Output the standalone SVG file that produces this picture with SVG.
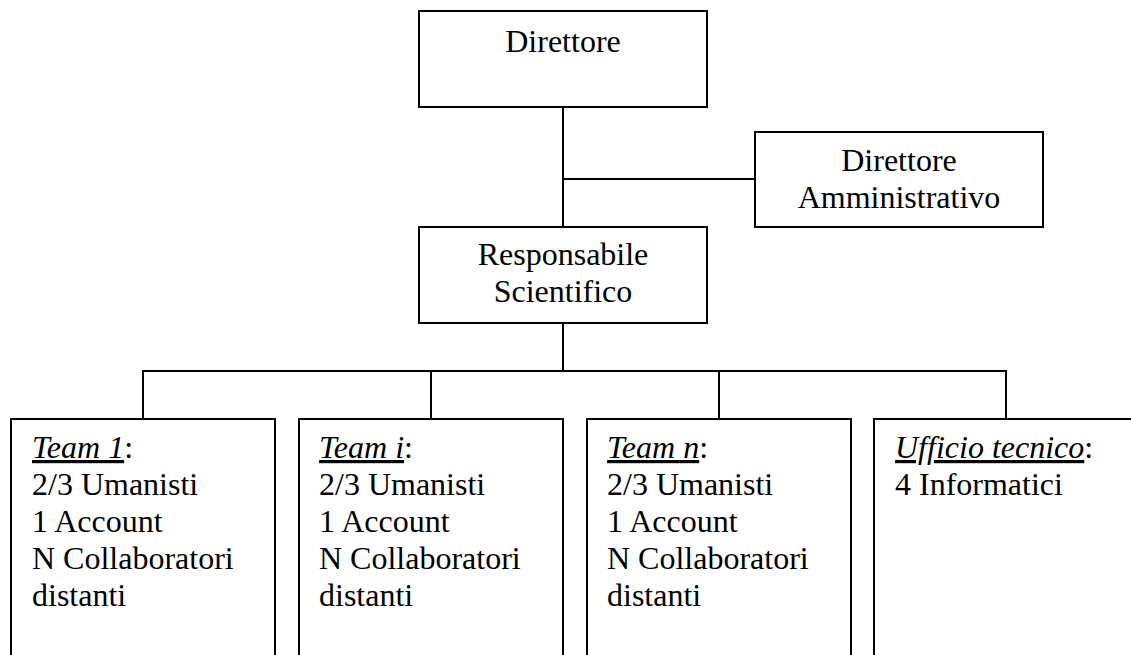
<svg xmlns="http://www.w3.org/2000/svg" width="1131" height="655" viewBox="0 0 1131 655">
  <style>
    .box { fill: #ffffff; stroke: #000000; stroke-width: 2; }
    .wire { fill: none; stroke: #000000; stroke-width: 2; }
    text { font-family: "Liberation Serif", "Times New Roman", serif; font-size: 32px; fill: #000000; }
    .c { text-anchor: middle; }
    .u { font-style: italic; text-decoration: underline; }
  </style>

  <rect width="1131" height="655" fill="#ffffff"/>

  <!-- connectors -->
  <g id="connectors">
    <path class="wire" d="M563 107 V227 M563 323 V371"/>
    <path class="wire" d="M563 179 H755"/>
    <path class="wire" d="M143 419 V371 H1006 V419"/>
    <path class="wire" d="M431 371 V419 M719 371 V419"/>
  </g>

  <g id="direttore">
    <rect class="box" x="419" y="11" width="288" height="96"/>
    <text class="c" x="563" y="52">Direttore</text>
  </g>

  <g id="direttore-amministrativo">
    <rect class="box" x="755" y="132" width="288" height="95"/>
    <text class="c" x="899" y="171">Direttore</text>
    <text class="c" x="899" y="208">Amministrativo</text>
  </g>

  <g id="responsabile-scientifico">
    <rect class="box" x="419" y="227" width="288" height="96"/>
    <text class="c" x="563" y="265">Responsabile</text>
    <text class="c" x="563" y="302">Scientifico</text>
  </g>

  <g id="team-1">
    <rect class="box" x="11" y="419" width="264" height="260"/>
    <text x="32" y="458"><tspan class="u">Team 1</tspan>:</text>
    <text x="32" y="495">2/3 Umanisti</text>
    <text x="32" y="532">1 Account</text>
    <text x="32" y="569">N Collaboratori</text>
    <text x="32" y="606">distanti</text>
  </g>

  <g id="team-i">
    <rect class="box" x="299" y="419" width="264" height="260"/>
    <text x="319" y="458"><tspan class="u">Team i</tspan>:</text>
    <text x="319" y="495">2/3 Umanisti</text>
    <text x="319" y="532">1 Account</text>
    <text x="319" y="569">N Collaboratori</text>
    <text x="319" y="606">distanti</text>
  </g>

  <g id="team-n">
    <rect class="box" x="587" y="419" width="264" height="260"/>
    <text x="607" y="458"><tspan class="u">Team n</tspan>:</text>
    <text x="607" y="495">2/3 Umanisti</text>
    <text x="607" y="532">1 Account</text>
    <text x="607" y="569">N Collaboratori</text>
    <text x="607" y="606">distanti</text>
  </g>

  <g id="ufficio-tecnico">
    <rect class="box" x="874" y="419" width="264" height="260"/>
    <text x="895" y="458"><tspan class="u">Ufficio tecnico</tspan>:</text>
    <text x="895" y="495">4 Informatici</text>
  </g>
</svg>
